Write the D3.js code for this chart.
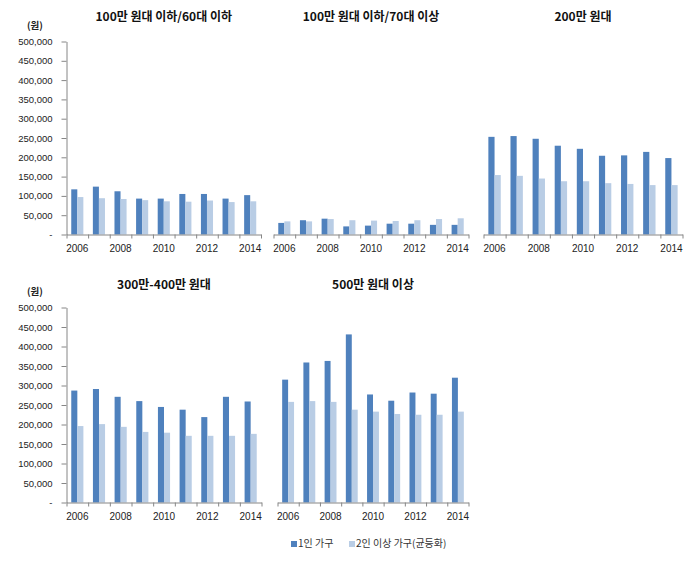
<!DOCTYPE html>
<html>
<head>
<meta charset="utf-8">
<script src="https://cdn.jsdelivr.net/npm/d3@7"></script>
<style>
  body { margin: 0; background: #fff; }
  svg { display: block; font-family: "Noto Sans CJK KR", "Noto Sans", sans-serif; }
  .tick text { fill: #222; font-size: 9.5px; }
</style>
</head>
<body>
<svg width="695" height="565"></svg>
<script>
const years = [2006, 2007, 2008, 2009, 2010, 2011, 2012, 2013, 2014];
const labelYears = [2006, 2008, 2010, 2012, 2014];
const seriesNames = ['1인 가구', '2인 이상 가구(균등화)'];
const yTicks = [0, 50000, 100000, 150000, 200000, 250000, 300000, 350000, 400000, 450000, 500000];
const panelTitles = ['100만 원대 이하/60대 이하', '100만 원대 이하/70대 이상', '200만 원대', '300만-400만 원대', '500만 원대 이상'];

// 1인 가구 / 2인 이상 가구(균등화), won
const single100u60 = [117000, 124000, 112000, 93000, 93000, 105000, 105000, 93000, 102000];
const multi100u60  = [97000, 94000, 92000, 89000, 86000, 85000, 88000, 84000, 86000];
const single100o70 = [30000, 37000, 41000, 21000, 23000, 28000, 28000, 25000, 25000];
const multi100o70  = [34000, 34000, 40000, 37000, 36000, 35000, 37000, 40000, 42000];
const single200    = [253000, 255000, 248000, 230000, 222000, 204000, 205000, 214000, 198000];
const multi200     = [154000, 152000, 145000, 138000, 138000, 133000, 131000, 128000, 128000];
const single300400 = [287000, 291000, 271000, 260000, 245000, 238000, 219000, 271000, 259000];
const multi300400  = [196000, 201000, 194000, 181000, 179000, 171000, 171000, 171000, 176000];
const single500    = [315000, 359000, 363000, 431000, 277000, 261000, 282000, 279000, 320000];
const multi500     = [258000, 260000, 258000, 238000, 233000, 227000, 225000, 225000, 233000];

const colors = ['#4F81BD', '#B9CDE5'];

const panels = [
  { title: panelTitles[0], data: [single100u60, multi100u60], x0: 66.5, x1: 261, top: 41.5, bottom: 234.5, yAxis: true, titleY: 21 },
  { title: panelTitles[1], data: [single100o70, multi100o70], x0: 273.5, x1: 468.5, top: 41.5, bottom: 234.5, yAxis: false, titleY: 21 },
  { title: panelTitles[2], data: [single200, multi200], x0: 483.5, x1: 682.5, top: 41.5, bottom: 234.5, yAxis: false, titleY: 21 },
  { title: panelTitles[3], data: [single300400, multi300400], x0: 66.5, x1: 261.5, top: 307.5, bottom: 502.5, yAxis: true, titleY: 289 },
  { title: panelTitles[4], data: [single500, multi500], x0: 277.5, x1: 468.5, top: 307.5, bottom: 502.5, yAxis: false, titleY: 289 }
];

const svg = d3.select('svg');

panels.forEach(p => {
  const g = svg.append('g');

  const x = d3.scaleBand()
    .domain(years)
    .range([p.x0, p.x1])
    .paddingInner(0.44)
    .paddingOuter(0.22);

  const xs = d3.scaleBand()
    .domain(seriesNames)
    .range([0, x.bandwidth()]);

  const y = d3.scaleLinear()
    .domain([0, 500000])
    .range([p.bottom, p.top]);

  // bars
  g.append('g')
    .selectAll('g')
    .data(p.data)
    .join('g')
    .attr('fill', (d, i) => colors[i])
    .selectAll('rect')
    .data((d, i) => d.map((v, j) => ({ year: years[j], key: seriesNames[i], value: v })))
    .join('rect')
    .attr('x', d => x(d.year) + xs(d.key))
    .attr('y', d => y(d.value))
    .attr('width', xs.bandwidth())
    .attr('height', d => y(0) - y(d.value));

  // x axis: tick marks at band boundaries
  const xt = d3.scaleLinear().domain([0, years.length]).range([p.x0, p.x1]);
  g.append('g')
    .attr('transform', `translate(0,${p.bottom})`)
    .call(d3.axisBottom(xt).tickValues(d3.range(years.length + 1)).tickSize(4).tickSizeOuter(0).tickFormat(''))
    .call(a => a.selectAll('line,path').attr('stroke', '#868686'));

  // x labels
  g.append('g')
    .attr('transform', `translate(0,${p.bottom})`)
    .call(d3.axisBottom(x).tickValues(labelYears).tickSize(0).tickPadding(10))
    .call(a => a.select('.domain').remove())
    .call(a => a.selectAll('text').style('font-size', '10px'));

  if (p.yAxis) {
    g.append('g')
      .attr('transform', `translate(${p.x0},0)`)
      .call(d3.axisLeft(y).tickValues(yTicks).tickSize(5).tickSizeOuter(0).tickPadding(9)
        .tickFormat(d => d === 0 ? '-' : d3.format(',')(d)))
      .call(a => a.selectAll('line,path').attr('stroke', '#868686'));

    g.append('text')
      .attr('x', 35)
      .attr('y', p.top - 13)
      .attr('text-anchor', 'middle')
      .attr('font-size', 9.5)
      .attr('font-weight', 'bold')
      .attr('fill', '#222')
      .text('(원)');
  }

  g.append('text')
    .attr('x', (p.x0 + p.x1) / 2)
    .attr('y', p.titleY)
    .attr('text-anchor', 'middle')
    .attr('font-size', 12)
    .attr('font-weight', 'bold')
    .attr('fill', '#111')
    .text(p.title);
});

// legend
const legend = svg.append('g').attr('transform', 'translate(291,547)');
const legendX = [0, 58];
seriesNames.forEach((name, i) => {
  const item = legend.append('g').attr('transform', `translate(${legendX[i]},0)`);
  item.append('rect')
    .attr('x', 0).attr('y', -6)
    .attr('width', 6).attr('height', 6)
    .attr('fill', colors[i]);
  item.append('text')
    .attr('x', 7).attr('y', 0)
    .attr('font-size', 10)
    .attr('fill', '#333')
    .text(name);
});
</script>
</body>
</html>
